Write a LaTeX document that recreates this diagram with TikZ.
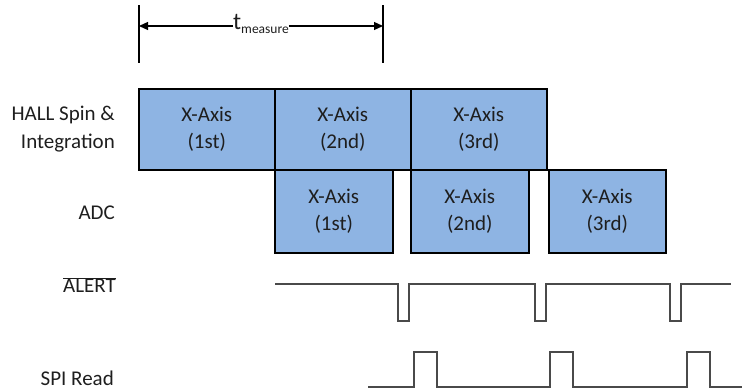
\documentclass[tikz,border=0pt]{standalone}
\usepackage{fontspec}
\setmainfont{Carlito}
\usetikzlibrary{arrows.meta}
\definecolor{boxfill}{HTML}{8EB4E3}
\definecolor{txt}{HTML}{1E1E1E}
\definecolor{wave}{HTML}{4A4A4A}
\begin{document}
\begin{tikzpicture}[x=1pt,y=-1pt,
  box/.style={draw=black, fill=boxfill, line width=1.5pt, anchor=north west, inner sep=0pt,
    align=center, text=txt, font=\fontsize{21}{27}\selectfont},
  lbl/.style={anchor=east, align=right, text=txt, font=\fontsize{21}{28}\selectfont, inner sep=0pt},
  wv/.style={draw=wave, line width=1.4pt},
  dim/.style={draw=black, line width=1.2pt}]
\useasboundingbox (0,0) rectangle (742,391);
% measurement
\coordinate (mL) at (139,26);
\coordinate (mR) at (383,26);
\draw[dim] (139,5) -- (139,63);
\draw[dim] (383,5) -- (383,63);
\node[text=txt, inner sep=0pt, outer sep=0pt] (tm) at (261,24) {\fontsize{24}{24}\selectfont t\raisebox{-4pt}{\fontsize{13.5}{14}\selectfont measure}};
\draw[dim,-{Triangle[length=9pt,width=8pt]}] (tm.west |- mL) -- (mL);
\draw[dim,-{Triangle[length=9pt,width=8pt]}] (tm.east |- mR) -- (mR);
% HALL row
\node[box, minimum width=136pt, minimum height=81pt] (h1) at (138,88) {X-Axis\\(1st)};
\node[box, minimum width=136pt, minimum height=81pt] (h2) at (274,88) {X-Axis\\(2nd)};
\node[box, minimum width=136pt, minimum height=81pt] (h3) at (410,88) {X-Axis\\(3rd)};
% ADC row
\node[box, minimum width=118pt, minimum height=83pt] (a1) at (274,169) {X-Axis\\(1st)};
\node[box, minimum width=118pt, minimum height=83pt] (a2) at (410,169) {X-Axis\\(2nd)};
\node[box, minimum width=117pt, minimum height=83pt] (a3) at (548,169) {X-Axis\\(3rd)};
% labels
\node[lbl] (lh) at (115,129) {HALL Spin \&\\Integration};
\node[lbl] (la) at (115,213) {ADC};
\node[lbl] (lal) at (116,285) {$\overline{\mbox{ALERT}}$};
\node[lbl] (ls) at (114,378) {SPI Read};
% ALERT waveform
\draw[wv] (275,284) -- (398,284) -- (398,321) -- (409,321) -- (409,284)
  -- (535,284) -- (535,321) -- (546,321) -- (546,284)
  -- (670,284) -- (670,321) -- (681,321) -- (681,284) -- (731,284);
% SPI waveform
\draw[wv] (368,387) -- (414,387) -- (414,352) -- (437,352) -- (437,387)
  -- (550,387) -- (550,352) -- (573,352) -- (573,387)
  -- (687,387) -- (687,352) -- (710,352) -- (710,387) -- (742,387);
\end{tikzpicture}
\end{document}
